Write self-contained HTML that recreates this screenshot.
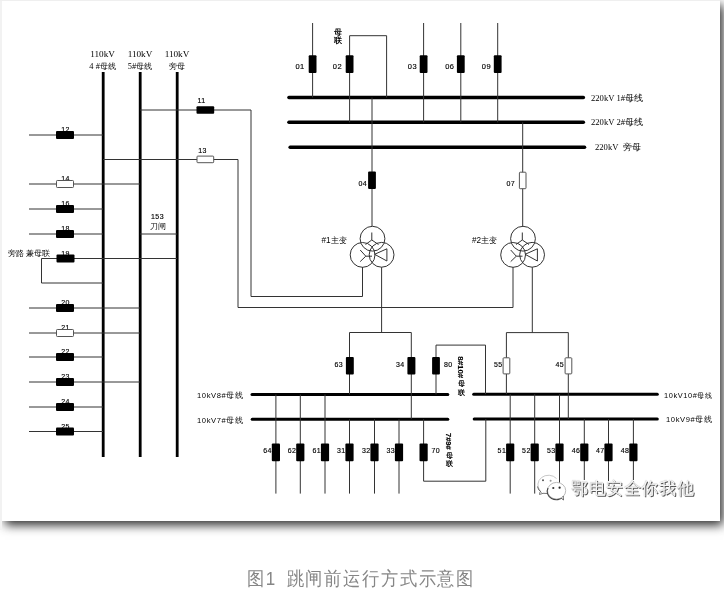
<!DOCTYPE html>
<html><head><meta charset="utf-8">
<style>
html,body{margin:0;padding:0;background:#fff;width:724px;height:591px;overflow:hidden;position:relative}
#wrap{position:absolute;left:0;top:0;width:724px;height:591px;filter:grayscale(1)}
.fl{position:absolute;left:0;top:0;width:2px;height:530px;background:#f2f2f2}
.ft{position:absolute;left:0;top:0;width:720px;height:1px;background:#efefef}
.box{position:absolute;left:2px;top:1px;width:718px;height:520px;background:#fff;box-shadow:3px 4px 10px rgba(0,0,0,0.84)}
svg{position:absolute;left:0;top:0}
text.s{font-family:"Liberation Sans",sans-serif;fill:#000;letter-spacing:0.4px;stroke:#000;stroke-width:0.15px}
text.w{font-family:"Liberation Sans",sans-serif;fill:#000;letter-spacing:0.6px;font-weight:500}
text.r{font-family:"Liberation Serif",serif;fill:#000;font-weight:500}
text.c{font-family:"Liberation Sans",sans-serif;fill:#000;font-weight:500}
.cap{position:absolute;top:565.5px;font-family:"Liberation Sans",sans-serif;font-size:17px;color:#868686;white-space:nowrap;letter-spacing:1.87px;transform:scaleY(1.1);transform-origin:0 0}
.vt{position:absolute;writing-mode:vertical-rl;font-family:"Liberation Sans",sans-serif;font-size:8px;line-height:8px;width:8px;font-weight:bold;color:#000;white-space:nowrap}
.wm{position:absolute;left:571px;top:476.5px;letter-spacing:0.6px;font-family:"Liberation Sans",sans-serif;font-size:17px;color:#f4f4f4;white-space:nowrap;text-shadow:1px 1px 0 #555, 0 0 1px #999}
</style></head><body>
<div id="wrap">
<div class="box"></div>
<div class="fl"></div><div class="ft"></div>
<svg width="724" height="591" viewBox="0 0 724 591">
<text x="102.6" y="57.3" font-size="9.2" text-anchor="middle" class="r" >110kV</text>
<text x="102.6" y="68.6" font-size="8.4" text-anchor="middle" class="r" >4 #母线</text>
<text x="140" y="57.3" font-size="9.2" text-anchor="middle" class="r" >110kV</text>
<text x="140" y="68.6" font-size="8.4" text-anchor="middle" class="r" >5#母线</text>
<text x="177" y="57.3" font-size="9.2" text-anchor="middle" class="r" >110kV</text>
<text x="177" y="68.6" font-size="8.4" text-anchor="middle" class="r" >旁母</text>
<text x="65.5" y="132" font-size="7" text-anchor="middle" class="s" >12</text>
<text x="65.5" y="181" font-size="7" text-anchor="middle" class="s" >14</text>
<text x="65.5" y="206" font-size="7" text-anchor="middle" class="s" >16</text>
<text x="65.5" y="231" font-size="7" text-anchor="middle" class="s" >18</text>
<text x="65.5" y="305" font-size="7" text-anchor="middle" class="s" >20</text>
<text x="65.5" y="330" font-size="7" text-anchor="middle" class="s" >21</text>
<text x="65.5" y="354" font-size="7" text-anchor="middle" class="s" >22</text>
<text x="65.5" y="379" font-size="7" text-anchor="middle" class="s" >23</text>
<text x="65.5" y="404" font-size="7" text-anchor="middle" class="s" >24</text>
<text x="65.5" y="428.5" font-size="7" text-anchor="middle" class="s" >25</text>
<text x="65.5" y="255.5" font-size="7" text-anchor="middle" class="s" >19</text>
<text x="8" y="255.6" font-size="7.8" text-anchor="start" class="c" >旁路 兼母联</text>
<text x="157.5" y="218.5" font-size="7" text-anchor="middle" class="s" >153</text>
<text x="157.5" y="228.7" font-size="7.8" text-anchor="middle" class="c" >刀闸</text>
<text x="201.5" y="103.2" font-size="7" text-anchor="middle" class="s" >11</text>
<text x="202.5" y="152.8" font-size="7" text-anchor="middle" class="s" >13</text>
<text x="591" y="100.6" font-size="8.6" text-anchor="start" class="r" >220kV 1#母线</text>
<text x="591" y="125.4" font-size="8.6" text-anchor="start" class="r" >220kV 2#母线</text>
<text x="595" y="149.6" font-size="8.6" text-anchor="start" class="r" >220kV&#160;&#160;旁母</text>
<text x="304.70000000000005" y="69.3" font-size="7.5" text-anchor="end" class="s" >01</text>
<text x="342.0" y="69.3" font-size="7.5" text-anchor="end" class="s" >02</text>
<text x="417.0" y="69.3" font-size="7.5" text-anchor="end" class="s" >03</text>
<text x="454.3" y="69.3" font-size="7.5" text-anchor="end" class="s" >06</text>
<text x="491.0" y="69.3" font-size="7.5" text-anchor="end" class="s" >09</text>
<text x="338" y="35" font-size="7.5" text-anchor="middle" class="c" style="font-weight:bold">母</text>
<text x="338" y="43.2" font-size="7.5" text-anchor="middle" class="c" style="font-weight:bold">联</text>
<text x="367" y="186.1" font-size="7" text-anchor="end" class="s" >04</text>
<text x="515" y="186.2" font-size="7" text-anchor="end" class="s" >07</text>
<text x="321.5" y="243" font-size="8.2" text-anchor="start" class="c" >#1主变</text>
<text x="472" y="243" font-size="8.2" text-anchor="start" class="c" >#2主变</text>
<text x="197" y="397.8" font-size="7.6" text-anchor="start" class="w" >10kV8#母线</text>
<text x="197" y="422.6" font-size="7.6" text-anchor="start" class="w" >10kV7#母线</text>
<text x="664" y="397.8" font-size="7.4" text-anchor="start" class="w" >10kV10#母线</text>
<text x="666" y="422.4" font-size="7.6" text-anchor="start" class="w" >10kV9#母线</text>
<text x="343" y="366.7" font-size="7" text-anchor="end" class="s" >63</text>
<text x="404.5" y="366.7" font-size="7" text-anchor="end" class="s" >34</text>
<text x="444" y="367" font-size="7" text-anchor="start" class="s" >80</text>
<text x="461.2" y="386.4" font-size="7.2" text-anchor="middle" class="c" style="font-weight:bold">母</text>
<text x="461.2" y="395.2" font-size="7.2" text-anchor="middle" class="c" style="font-weight:bold">联</text>
<text x="502.5" y="366.7" font-size="7" text-anchor="end" class="s" >55</text>
<text x="564" y="366.7" font-size="7" text-anchor="end" class="s" >45</text>
<text x="271.9" y="453.3" font-size="7" text-anchor="end" class="s" >64</text>
<text x="296.3" y="453.3" font-size="7" text-anchor="end" class="s" >62</text>
<text x="321" y="453.3" font-size="7" text-anchor="end" class="s" >61</text>
<text x="345.5" y="453.3" font-size="7" text-anchor="end" class="s" >31</text>
<text x="370.5" y="453.3" font-size="7" text-anchor="end" class="s" >32</text>
<text x="395" y="453.3" font-size="7" text-anchor="end" class="s" >33</text>
<text x="506.2" y="453.3" font-size="7" text-anchor="end" class="s" >51</text>
<text x="530.7" y="453.3" font-size="7" text-anchor="end" class="s" >52</text>
<text x="555.5" y="453.3" font-size="7" text-anchor="end" class="s" >53</text>
<text x="580.3" y="453.3" font-size="7" text-anchor="end" class="s" >46</text>
<text x="604.5" y="453.3" font-size="7" text-anchor="end" class="s" >47</text>
<text x="629.4" y="453.3" font-size="7" text-anchor="end" class="s" >48</text>
<text x="431.4" y="453.3" font-size="7" text-anchor="start" class="s" >70</text>
<text x="449.3" y="457.6" font-size="7.0" text-anchor="middle" class="c" style="font-weight:bold">母</text>
<text x="449.3" y="465.8" font-size="7.0" text-anchor="middle" class="c" style="font-weight:bold">联</text>
<line x1="103.2" y1="72" x2="103.2" y2="457" stroke="#000" stroke-width="2.8"/>
<line x1="140.2" y1="72" x2="140.2" y2="457" stroke="#000" stroke-width="2.8"/>
<line x1="177.2" y1="72" x2="177.2" y2="457" stroke="#000" stroke-width="2.8"/>
<line x1="29" y1="135" x2="103" y2="135" stroke="#333" stroke-width="1"/>
<rect x="56" y="131" width="18" height="8" rx="1" fill="#000"/>
<line x1="29" y1="184" x2="140" y2="184" stroke="#333" stroke-width="1"/>
<rect x="56.5" y="180.5" width="17" height="7" rx="0.8" fill="#fff" stroke="#555" stroke-width="1"/>
<line x1="29" y1="209" x2="103" y2="209" stroke="#333" stroke-width="1"/>
<rect x="56" y="205" width="18" height="8" rx="1" fill="#000"/>
<line x1="29" y1="234" x2="103" y2="234" stroke="#333" stroke-width="1"/>
<rect x="56" y="230" width="18" height="8" rx="1" fill="#000"/>
<line x1="29" y1="308" x2="140" y2="308" stroke="#333" stroke-width="1"/>
<rect x="56" y="304" width="18" height="8" rx="1" fill="#000"/>
<line x1="29" y1="333" x2="140" y2="333" stroke="#333" stroke-width="1"/>
<rect x="56.5" y="329.5" width="17" height="7" rx="0.8" fill="#fff" stroke="#555" stroke-width="1"/>
<line x1="29" y1="357" x2="103" y2="357" stroke="#333" stroke-width="1"/>
<rect x="56" y="353" width="18" height="8" rx="1" fill="#000"/>
<line x1="29" y1="382" x2="140" y2="382" stroke="#333" stroke-width="1"/>
<rect x="56" y="378" width="18" height="8" rx="1" fill="#000"/>
<line x1="29" y1="407" x2="103" y2="407" stroke="#333" stroke-width="1"/>
<rect x="56" y="403" width="18" height="8" rx="1" fill="#000"/>
<line x1="29" y1="431.5" x2="103" y2="431.5" stroke="#333" stroke-width="1"/>
<rect x="56" y="427.5" width="18" height="8" rx="1" fill="#000"/>
<polyline points="177,258.5 41.5,258.5 41.5,283 103,283" fill="none" stroke="#333" stroke-width="1"/>
<rect x="56.5" y="254.5" width="18" height="8" rx="1" fill="#000"/>
<line x1="140" y1="234" x2="177" y2="234" stroke="#333" stroke-width="1"/>
<polyline points="140,110 251,110 251,296.5 362.5,296.5 362.5,267" fill="none" stroke="#333" stroke-width="1"/>
<rect x="196.5" y="106.3" width="17.7" height="7.5" rx="1" fill="#000"/>
<polyline points="103,159.5 238,159.5 238,307.5 513,307.5 513,267" fill="none" stroke="#333" stroke-width="1"/>
<rect x="197.0" y="156.1" width="16.7" height="6.6" rx="0.8" fill="#fff" stroke="#555" stroke-width="1"/>
<line x1="288.9" y1="97.5" x2="583.4" y2="97.5" stroke="#000" stroke-width="3.4" stroke-linecap="round"/>
<line x1="288.9" y1="122.3" x2="583.4" y2="122.3" stroke="#000" stroke-width="3.4" stroke-linecap="round"/>
<line x1="290.09999999999997" y1="147.2" x2="584.6" y2="147.2" stroke="#000" stroke-width="3.4" stroke-linecap="round"/>
<line x1="312.6" y1="23" x2="312.6" y2="97.5" stroke="#333" stroke-width="1"/>
<rect x="308.70000000000005" y="55.3" width="7.8" height="17.6" rx="1" fill="#000"/>
<line x1="349.6" y1="35.7" x2="349.6" y2="122.3" stroke="#333" stroke-width="1"/>
<rect x="345.70000000000005" y="55.3" width="7.8" height="17.6" rx="1" fill="#000"/>
<line x1="423.6" y1="23" x2="423.6" y2="122.3" stroke="#333" stroke-width="1"/>
<rect x="419.70000000000005" y="55.3" width="7.8" height="17.6" rx="1" fill="#000"/>
<line x1="460.8" y1="23" x2="460.8" y2="122.3" stroke="#333" stroke-width="1"/>
<rect x="456.90000000000003" y="55.3" width="7.8" height="17.6" rx="1" fill="#000"/>
<line x1="497.7" y1="23" x2="497.7" y2="122.3" stroke="#333" stroke-width="1"/>
<rect x="493.8" y="55.3" width="7.8" height="17.6" rx="1" fill="#000"/>
<polyline points="349.6,35.7 386.6,35.7 386.6,97.5" fill="none" stroke="#333" stroke-width="1"/>
<line x1="372" y1="97.5" x2="372" y2="226.3" stroke="#333" stroke-width="1"/>
<rect x="368.1" y="171.5" width="7.8" height="17.5" rx="1" fill="#000"/>
<line x1="522.7" y1="122.3" x2="522.7" y2="226.3" stroke="#333" stroke-width="1"/>
<rect x="519.4" y="172.2" width="6.6" height="16.5" rx="0.8" fill="#fff" stroke="#555" stroke-width="1"/>
<g transform="translate(0,0)" fill="none" stroke="#333" stroke-width="1"><circle cx="372.5" cy="238.7" r="12.4"/><circle cx="362.6" cy="254.9" r="12.4"/><circle cx="381.6" cy="254.8" r="12.4"/><polyline points="371.8,232.5 371.8,240 365.5,244.5"/><line x1="371.8" y1="240" x2="378.5" y2="244.5"/><polyline points="360.2,250 365.8,256.2 360.2,261.6"/><line x1="365.8" y1="256.2" x2="372" y2="256.2"/><polygon points="374.6,254.3 386.9,248.8 386.9,261"/></g>
<g transform="translate(150.5,0)" fill="none" stroke="#333" stroke-width="1"><circle cx="372.5" cy="238.7" r="12.4"/><circle cx="362.6" cy="254.9" r="12.4"/><circle cx="381.6" cy="254.8" r="12.4"/><polyline points="371.8,232.5 371.8,240 365.5,244.5"/><line x1="371.8" y1="240" x2="378.5" y2="244.5"/><polyline points="360.2,250 365.8,256.2 360.2,261.6"/><line x1="365.8" y1="256.2" x2="372" y2="256.2"/><polygon points="374.6,254.3 386.9,248.8 386.9,261"/></g>
<polyline points="381.6,267.2 381.6,332.5" fill="none" stroke="#333" stroke-width="1"/>
<line x1="349.5" y1="332.5" x2="411.3" y2="332.5" stroke="#333" stroke-width="1"/>
<polyline points="532.3,267.2 532.3,332.6" fill="none" stroke="#333" stroke-width="1"/>
<line x1="506.4" y1="332.6" x2="568.4" y2="332.6" stroke="#333" stroke-width="1"/>
<line x1="252.0" y1="394.4" x2="447.8" y2="394.4" stroke="#000" stroke-width="3" stroke-linecap="round"/>
<line x1="252.2" y1="419.2" x2="447.8" y2="419.2" stroke="#000" stroke-width="3" stroke-linecap="round"/>
<line x1="473.7" y1="394.2" x2="657.3" y2="394.2" stroke="#000" stroke-width="3" stroke-linecap="round"/>
<line x1="474.2" y1="419" x2="657.3" y2="419" stroke="#000" stroke-width="3" stroke-linecap="round"/>
<line x1="349.5" y1="332.5" x2="349.5" y2="394.4" stroke="#333" stroke-width="1"/>
<rect x="345.9" y="357" width="7.9" height="17.5" rx="1" fill="#000"/>
<line x1="411.3" y1="332.5" x2="411.3" y2="419.2" stroke="#333" stroke-width="1"/>
<rect x="407.4" y="357" width="8" height="17.5" rx="1" fill="#000"/>
<polyline points="436,394.4 436,345.1 485.5,345.1 485.5,394.2" fill="none" stroke="#333" stroke-width="1"/>
<rect x="432.1" y="357" width="7.8" height="17.6" rx="1" fill="#000"/>
<text class="s" style="font-weight:bold;letter-spacing:0" font-size="7.9" transform="translate(458,356.3) rotate(90)" x="0" y="0">8#10#</text>
<line x1="506.4" y1="332.6" x2="506.4" y2="394.2" stroke="#333" stroke-width="1"/>
<rect x="503.1" y="357.8" width="6.7" height="16.1" rx="0.8" fill="#fff" stroke="#555" stroke-width="1"/>
<line x1="568.3" y1="332.6" x2="568.3" y2="419" stroke="#333" stroke-width="1"/>
<rect x="565.1" y="357.8" width="6.7" height="16.1" rx="0.8" fill="#fff" stroke="#555" stroke-width="1"/>
<line x1="275.9" y1="394.4" x2="275.9" y2="493.6" stroke="#333" stroke-width="1"/>
<rect x="271.79999999999995" y="443.5" width="8.2" height="17.8" rx="1" fill="#000"/>
<line x1="300.3" y1="394.4" x2="300.3" y2="493.6" stroke="#333" stroke-width="1"/>
<rect x="296.2" y="443.5" width="8.2" height="17.8" rx="1" fill="#000"/>
<line x1="325" y1="394.4" x2="325" y2="493.6" stroke="#333" stroke-width="1"/>
<rect x="320.9" y="443.5" width="8.2" height="17.8" rx="1" fill="#000"/>
<line x1="349.5" y1="419.2" x2="349.5" y2="493.6" stroke="#333" stroke-width="1"/>
<rect x="345.4" y="443.5" width="8.2" height="17.8" rx="1" fill="#000"/>
<line x1="374.5" y1="419.2" x2="374.5" y2="493.6" stroke="#333" stroke-width="1"/>
<rect x="370.4" y="443.5" width="8.2" height="17.8" rx="1" fill="#000"/>
<line x1="399" y1="419.2" x2="399" y2="493.6" stroke="#333" stroke-width="1"/>
<rect x="394.9" y="443.5" width="8.2" height="17.8" rx="1" fill="#000"/>
<line x1="510.2" y1="394.2" x2="510.2" y2="493.6" stroke="#333" stroke-width="1"/>
<rect x="506.09999999999997" y="443.5" width="8.2" height="17.8" rx="1" fill="#000"/>
<line x1="534.7" y1="394.2" x2="534.7" y2="493.6" stroke="#333" stroke-width="1"/>
<rect x="530.6" y="443.5" width="8.2" height="17.8" rx="1" fill="#000"/>
<line x1="559.5" y1="394.2" x2="559.5" y2="484" stroke="#333" stroke-width="1"/>
<rect x="555.4" y="443.5" width="8.2" height="17.8" rx="1" fill="#000"/>
<line x1="584.3" y1="419" x2="584.3" y2="480" stroke="#333" stroke-width="1"/>
<rect x="580.1999999999999" y="443.5" width="8.2" height="17.8" rx="1" fill="#000"/>
<line x1="608.5" y1="419" x2="608.5" y2="481" stroke="#333" stroke-width="1"/>
<rect x="604.4" y="443.5" width="8.2" height="17.8" rx="1" fill="#000"/>
<line x1="633.4" y1="419" x2="633.4" y2="480" stroke="#333" stroke-width="1"/>
<rect x="629.3" y="443.5" width="8.2" height="17.8" rx="1" fill="#000"/>
<polyline points="423.6,419.2 423.6,481.2 485.8,481.2 485.8,419" fill="none" stroke="#333" stroke-width="1"/>
<rect x="419.5" y="443.5" width="8.2" height="17.8" rx="1" fill="#000"/>
<text class="s" style="font-weight:bold;letter-spacing:0" font-size="7.5" transform="translate(446.3,433) rotate(90)" x="0" y="0">7#9#</text>
<g>
<path d="M556.5 478.5 A9.8 8.8 0 1 0 540.5 491" fill="#fff" stroke="#c8c8c8" stroke-width="1"/>
<path d="M537.5 486.5 A9.8 8.8 0 0 0 541.5 492.5" fill="none" stroke="#666" stroke-width="1"/>
<path d="M540 492 L539.5 494.5 L543 493.3 L547.5 493.5" fill="none" stroke="#777" stroke-width="1"/>
<circle cx="543" cy="480.3" r="1" fill="#555"/><circle cx="550.6" cy="480.8" r="1" fill="#999"/>
<ellipse cx="556.6" cy="490.7" rx="9.1" ry="8.3" fill="#fff" stroke="#bbb" stroke-width="1"/>
<path d="M548 488 A9.1 8.3 0 0 0 563.5 496.5" fill="none" stroke="#444" stroke-width="1.1"/>
<path d="M561 498 L563.5 500 L563 496" fill="#fff" stroke="#555" stroke-width="0.9"/>
<circle cx="553.3" cy="488" r="1.1" fill="#333"/><circle cx="559.6" cy="487.7" r="1.1" fill="#222"/>
</g>
</svg>
<div class="wm">鄂电安全你我他</div>
<div class="cap" style="left:246.8px">图1</div><div class="cap" style="left:286.5px">跳闸前运行方式示意图</div>
</div>
</body></html>
